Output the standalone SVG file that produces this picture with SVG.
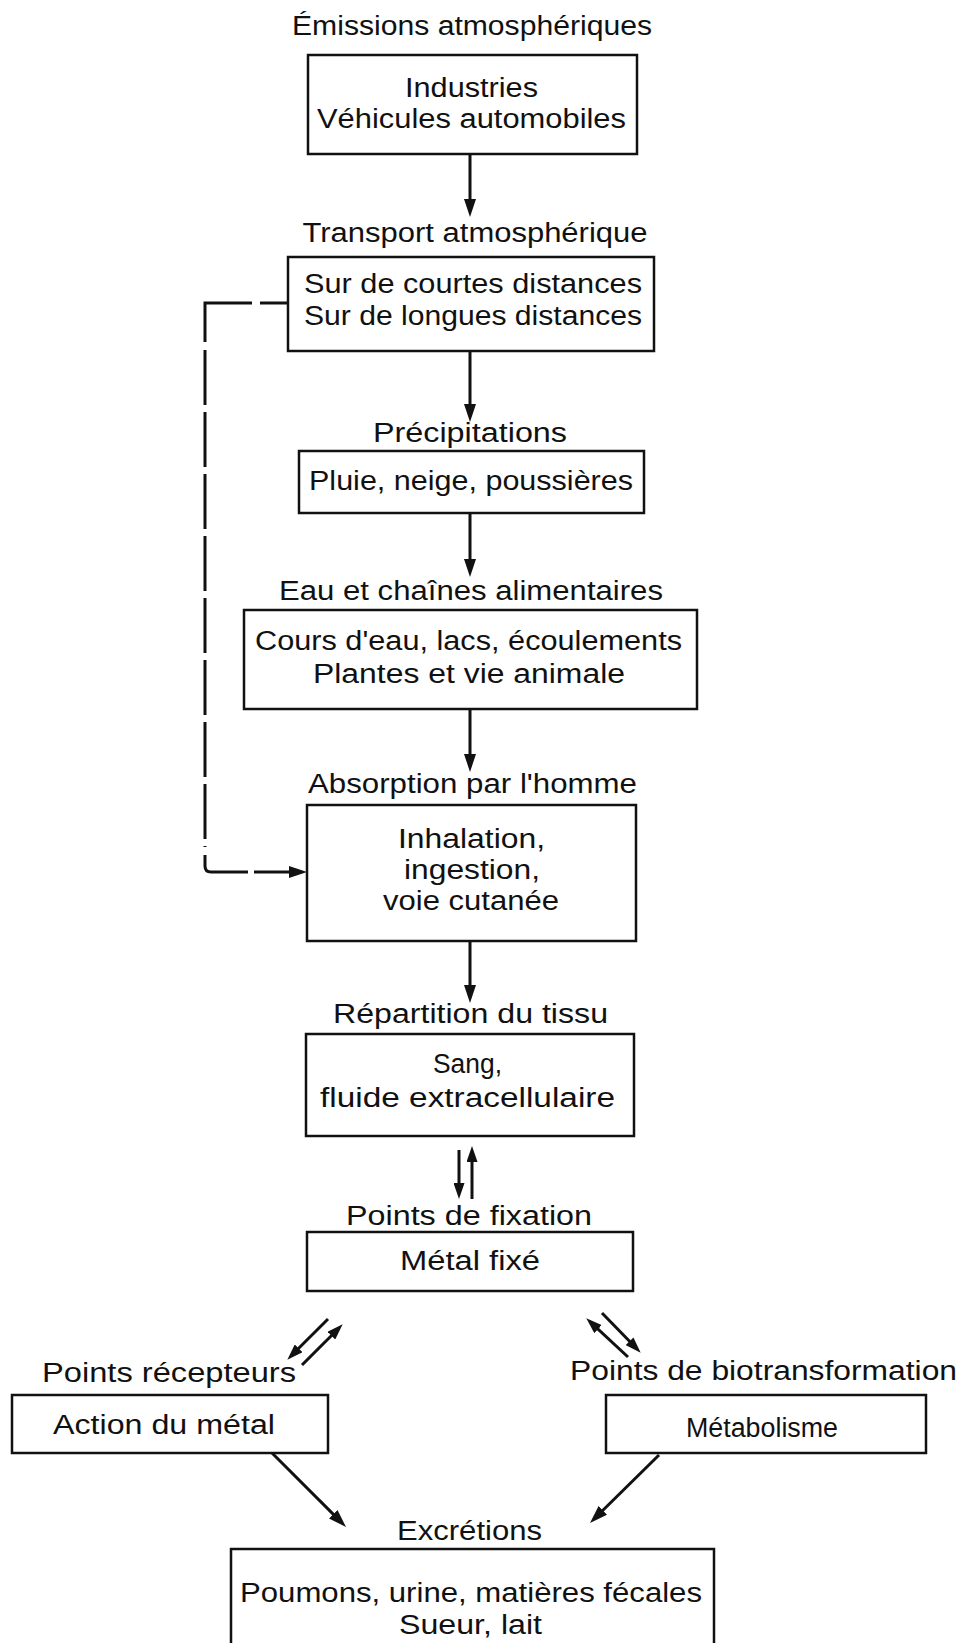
<svg xmlns="http://www.w3.org/2000/svg" width="964" height="1643" viewBox="0 0 964 1643">
<style>
.box{fill:#fff;stroke:#111;stroke-width:2.5}
.t{font-family:"Liberation Sans",Arial,sans-serif;font-size:27px;fill:#111;text-anchor:middle}
.c{fill:none;stroke:#111;stroke-width:3}
.d{fill:none;stroke:#111;stroke-width:3}
</style>
<defs>
<marker id="ah" markerUnits="userSpaceOnUse" markerWidth="18" markerHeight="12" refX="8" refY="6" orient="auto">
<path d="M0,0 L18,6 L0,12 z" fill="#111"/>
</marker>
<marker id="as" markerUnits="userSpaceOnUse" markerWidth="16" markerHeight="11" refX="7" refY="5.5" orient="auto">
<path d="M0,0 L16,5.5 L0,11 z" fill="#111"/>
</marker>
</defs>
<rect width="964" height="1643" fill="#fff"/>

<g id="connectors">
<line class="c" x1="470" y1="154" x2="470" y2="207" marker-end="url(#ah)"/>
<line class="c" x1="470" y1="351" x2="470" y2="412" marker-end="url(#ah)"/>
<line class="c" x1="470" y1="513" x2="470" y2="567" marker-end="url(#ah)"/>
<line class="c" x1="470" y1="709" x2="470" y2="762" marker-end="url(#ah)"/>
<line class="c" x1="470" y1="941" x2="470" y2="993" marker-end="url(#ah)"/>
<line class="c" x1="459" y1="1150" x2="459" y2="1190" marker-end="url(#as)"/>
<line class="c" x1="472" y1="1199" x2="472" y2="1155" marker-end="url(#as)"/>
<line class="c" x1="328" y1="1319" x2="293.7" y2="1353.3" marker-end="url(#as)"/>
<line class="c" x1="302" y1="1365" x2="336.3" y2="1330.7" marker-end="url(#as)"/>
<line class="c" x1="628" y1="1357" x2="592.9" y2="1324.4" marker-end="url(#as)"/>
<line class="c" x1="602" y1="1313" x2="634.4" y2="1346.3" marker-end="url(#as)"/>
<line class="c" x1="272" y1="1453" x2="338.9" y2="1519.9" marker-end="url(#ah)"/>
<line class="c" x1="659" y1="1455" x2="597.1" y2="1516" marker-end="url(#ah)"/>
<path class="d" d="M288,303 H260"/>
<path class="d" d="M252,303 H205 V342"/>
<path class="d" d="M205,350 V847" stroke-dasharray="55 7"/>
<path class="d" d="M205,855 V866 Q205,872 211,872 H248"/>
<path class="d" d="M254,872 H297" marker-end="url(#ah)"/>
</g>

<g id="n1">
<text class="t" x="472" y="35" textLength="360" lengthAdjust="spacingAndGlyphs">Émissions atmosphériques</text>
<rect class="box" x="308" y="55" width="329" height="99"/>
<text class="t" x="471.5" y="97" textLength="133" lengthAdjust="spacingAndGlyphs">Industries</text>
<text class="t" x="471.5" y="128" textLength="309" lengthAdjust="spacingAndGlyphs">Véhicules automobiles</text>
</g>
<g id="n2">
<text class="t" x="475" y="242" textLength="345" lengthAdjust="spacingAndGlyphs">Transport atmosphérique</text>
<rect class="box" x="288" y="257" width="366" height="94"/>
<text class="t" x="473" y="293" textLength="338" lengthAdjust="spacingAndGlyphs">Sur de courtes distances</text>
<text class="t" x="473" y="325" textLength="338" lengthAdjust="spacingAndGlyphs">Sur de longues distances</text>
</g>
<g id="n3">
<text class="t" x="470" y="442" textLength="194" lengthAdjust="spacingAndGlyphs">Précipitations</text>
<rect class="box" x="299" y="451" width="345" height="62"/>
<text class="t" x="471" y="490" textLength="324" lengthAdjust="spacingAndGlyphs">Pluie, neige, poussières</text>
</g>
<g id="n4">
<text class="t" x="471" y="600" textLength="384" lengthAdjust="spacingAndGlyphs">Eau et chaînes alimentaires</text>
<rect class="box" x="244" y="610" width="453" height="99"/>
<text class="t" x="468.5" y="650" textLength="427" lengthAdjust="spacingAndGlyphs">Cours d'eau, lacs, écoulements</text>
<text class="t" x="469" y="683" textLength="312" lengthAdjust="spacingAndGlyphs">Plantes et vie animale</text>
</g>
<g id="n5">
<text class="t" x="472.5" y="793" textLength="329" lengthAdjust="spacingAndGlyphs">Absorption par l'homme</text>
<rect class="box" x="307" y="805" width="329" height="136"/>
<text class="t" x="471.5" y="848" textLength="147" lengthAdjust="spacingAndGlyphs">Inhalation,</text>
<text class="t" x="472" y="879" textLength="136" lengthAdjust="spacingAndGlyphs">ingestion,</text>
<text class="t" x="471" y="910" textLength="176" lengthAdjust="spacingAndGlyphs">voie cutanée</text>
</g>
<g id="n6">
<text class="t" x="470.5" y="1023" textLength="275" lengthAdjust="spacingAndGlyphs">Répartition du tissu</text>
<rect class="box" x="306" y="1034" width="328" height="102"/>
<text class="t" x="467.5" y="1073" textLength="69" lengthAdjust="spacingAndGlyphs">Sang,</text>
<text class="t" x="467.5" y="1107" textLength="295" lengthAdjust="spacingAndGlyphs">fluide extracellulaire</text>
</g>
<g id="n7">
<text class="t" x="469" y="1225" textLength="246" lengthAdjust="spacingAndGlyphs">Points de fixation</text>
<rect class="box" x="307" y="1232" width="326" height="59"/>
<text class="t" x="470" y="1270" textLength="140" lengthAdjust="spacingAndGlyphs">Métal fixé</text>
</g>
<g id="n8">
<text class="t" x="169" y="1382" textLength="254" lengthAdjust="spacingAndGlyphs">Points récepteurs</text>
<rect class="box" x="12" y="1395" width="316" height="58"/>
<text class="t" x="164" y="1434" textLength="222" lengthAdjust="spacingAndGlyphs">Action du métal</text>
</g>
<g id="n9">
<text class="t" x="763.5" y="1380" textLength="387" lengthAdjust="spacingAndGlyphs">Points de biotransformation</text>
<rect class="box" x="606" y="1395" width="320" height="58"/>
<text class="t" x="762" y="1437" textLength="152" lengthAdjust="spacingAndGlyphs">Métabolisme</text>
</g>
<g id="n10">
<text class="t" x="469.5" y="1540" textLength="145" lengthAdjust="spacingAndGlyphs">Excrétions</text>
<rect class="box" x="231" y="1549" width="483" height="130"/>
<text class="t" x="471" y="1602" textLength="462" lengthAdjust="spacingAndGlyphs">Poumons, urine, matières fécales</text>
<text class="t" x="470.5" y="1634" textLength="143" lengthAdjust="spacingAndGlyphs">Sueur, lait</text>
</g>
</svg>
